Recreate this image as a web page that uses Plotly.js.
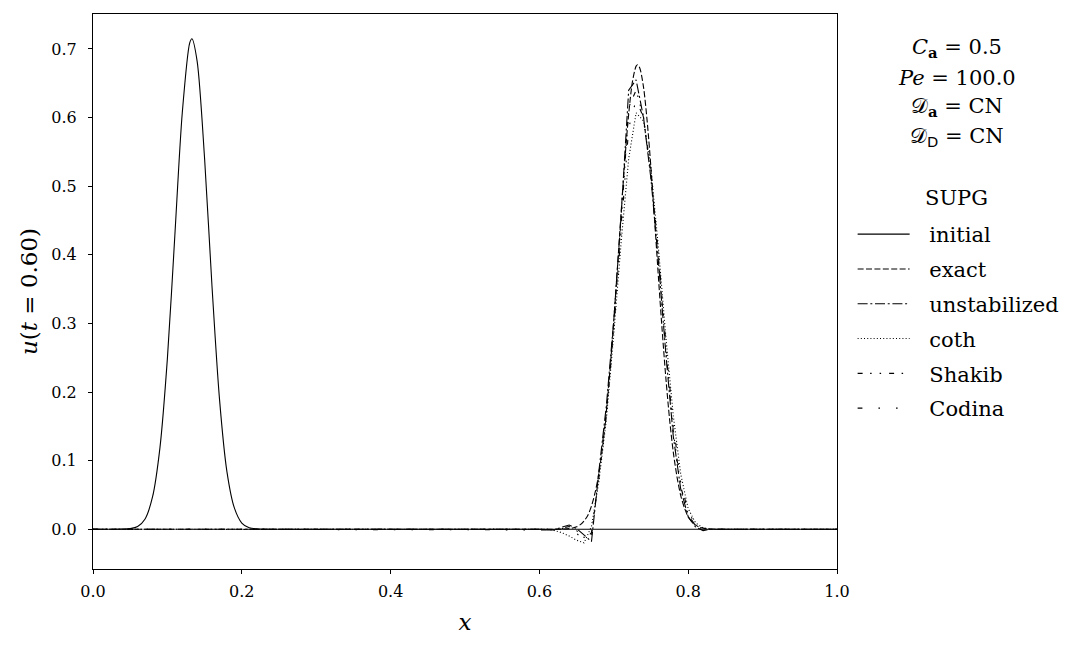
<!DOCTYPE html>
<html>
<head>
<meta charset="utf-8">
<script src="https://cdn.plot.ly/plotly-3.0.1.min.js"></script>
<style>html,body{margin:0;padding:0;background:#fff;}#chart{width:1082px;height:651px;}</style>
</head>
<body>
<div id="chart"></div>
<script>
// ---- data ----
const xInitial = [0, 0.03, 0.04, 0.05, 0.06, 0.07, 0.08, 0.09, 0.10, 0.11, 0.12, 0.13, 0.133, 0.14, 0.15, 0.16, 0.17, 0.18, 0.19, 0.20, 0.21, 0.22, 0.23, 0.24, 0.30, 1.0];
const uInitial = [0, 0, 0.0002, 0.0009, 0.004, 0.015, 0.047, 0.119, 0.249, 0.428, 0.607, 0.709, 0.715, 0.682, 0.540, 0.353, 0.190, 0.084, 0.031, 0.009, 0.002, 0.0005, 0.0001, 0, 0, 0];

const xExact = [0, 0.60, 0.63, 0.64, 0.645, 0.65, 0.655, 0.66, 0.665, 0.67, 0.675, 0.68, 0.685, 0.69, 0.695, 0.70, 0.705, 0.71, 0.715, 0.72, 0.725, 0.73, 0.732, 0.735, 0.74, 0.745, 0.75, 0.755, 0.76, 0.765, 0.77, 0.775, 0.78, 0.785, 0.79, 0.795, 0.80, 0.805, 0.81, 0.815, 0.82, 0.825, 0.83, 0.84, 0.87, 1.0];
const uExact = [0, 0, 0.0002, 0.0009, 0.0019, 0.0036, 0.0066, 0.012, 0.020, 0.034, 0.054, 0.082, 0.121, 0.171, 0.233, 0.305, 0.383, 0.464, 0.540, 0.605, 0.652, 0.675, 0.677, 0.672, 0.644, 0.593, 0.526, 0.448, 0.367, 0.290, 0.220, 0.160, 0.112, 0.076, 0.049, 0.031, 0.018, 0.011, 0.006, 0.003, 0.0016, 0.0008, 0.0003, 0, 0, 0];

const xMesh = [0, 0.50, 0.58, 0.59, 0.60, 0.61, 0.62, 0.63, 0.64, 0.65, 0.66, 0.67, 0.68, 0.69, 0.70, 0.71, 0.72, 0.73, 0.74, 0.75, 0.76, 0.77, 0.78, 0.79, 0.80, 0.81, 0.82, 0.83, 0.84, 0.90, 1.0];
const uUnstabilized = [0, 0, 0, 0.001, 0.000, -0.001, -0.001, 0.003, 0.006, 0.001, -0.009, -0.018, 0.085, 0.180, 0.305, 0.460, 0.640, 0.655, 0.600, 0.510, 0.390, 0.255, 0.135, 0.058, 0.018, 0.003, -0.002, 0, 0, 0, 0];
const uCoth = [0, 0, 0, 0, 0.001, 0, -0.002, -0.005, -0.010, -0.016, -0.020, 0.004, 0.070, 0.160, 0.285, 0.420, 0.540, 0.607, 0.595, 0.525, 0.410, 0.280, 0.165, 0.080, 0.030, 0.009, 0.002, 0, 0, 0, 0];
const uShakib = [0, 0, 0, 0.001, 0.001, 0, -0.001, 0.002, 0.004, -0.002, -0.012, -0.010, 0.078, 0.172, 0.297, 0.448, 0.615, 0.640, 0.600, 0.515, 0.397, 0.262, 0.142, 0.062, 0.021, 0.005, 0, 0, 0, 0, 0];
const uCodina = [0, 0, 0, 0, 0, 0, -0.001, 0.001, 0.002, -0.006, -0.016, -0.005, 0.075, 0.166, 0.291, 0.437, 0.585, 0.626, 0.600, 0.519, 0.402, 0.270, 0.152, 0.068, 0.025, 0.007, 0.001, 0, 0, 0, 0];

const seriesNames = ['initial', 'exact', 'unstabilized', 'coth', 'Shakib', 'Codina'];
const legendTitle = 'SUPG';
const yTickVals = [0, 0.1, 0.2, 0.3, 0.4, 0.5, 0.6, 0.7];
const xTickVals = [0, 0.2, 0.4, 0.6, 0.8, 1.0];
const paramLines = [
  '<i>C</i><sub><b>a</b></sub> = 0.5',
  '<i>Pe</i> = 100.0',
  '\u{1D49F}<sub><b>a</b></sub> = CN',
  '\u{1D49F}<sub><span style="font-family:DejaVu Sans">D</span></sub> = CN'
];

// ---- styling ----
const FONT = 'DejaVu Serif, Liberation Serif, serif';
const dashes = [
  'solid',
  '6px,2.4px',
  '10px,2.7px,2px,2.7px',
  '1px,2.2px',
  '5px,7.5px,1.5px,8px,1.5px,8px',
  '4.8px,16px,1.6px,16px,1.6px,16px'
];
const xs = [xInitial, xExact, xMesh, xMesh, xMesh, xMesh];
const ys = [uInitial, uExact, uUnstabilized, uCoth, uShakib, uCodina];
const LEGEND_PAD = '\u2002\u2009';

const traces = seriesNames.map((name, i) => ({
  type: 'scatter',
  mode: 'lines',
  x: xs[i],
  y: ys[i],
  name: LEGEND_PAD + name,
  legendgroup: name,
  line: {
    color: '#000',
    width: 1.1,
    dash: dashes[i],
    shape: i < 2 ? 'spline' : 'linear',
    smoothing: 0.8
  }
}));

const annotations = paramLines.map((t, i) => ({
  xref: 'paper', yref: 'paper',
  x: 1.161, y: [0.9387, 0.885, 0.8324, 0.778][i],
  xanchor: 'center', yanchor: 'middle',
  text: t, showarrow: false,
  font: {family: FONT, size: 21, color: '#000'}
}));
annotations.push({
  xref: 'paper', yref: 'paper',
  x: 1.161, y: 0.6685,
  xanchor: 'center', yanchor: 'middle',
  text: legendTitle, showarrow: false,
  font: {family: FONT, size: 21, color: '#000'}
});

const layout = {
  width: 1082, height: 651,
  margin: {l: 93, r: 245, t: 14, b: 82},
  paper_bgcolor: '#fff', plot_bgcolor: '#fff',
  font: {family: FONT, color: '#000'},
  showlegend: true,
  legend: {
    x: 1.021, y: 0.6396, xanchor: 'left', yanchor: 'top',
    bgcolor: 'rgba(0,0,0,0)',
    font: {family: FONT, size: 21, color: '#000'},
    tracegroupgap: 4.5,
    itemwidth: 52,
    traceorder: 'grouped'
  },
  xaxis: {
    range: [0, 1],
    tickvals: xTickVals,
    tickformat: '.1f',
    ticks: 'outside', ticklen: 4, tickwidth: 1, tickcolor: '#000',
    ticklabelstandoff: 4,
    showline: true, linecolor: '#000', linewidth: 1, mirror: true,
    showgrid: false, zeroline: false,
    tickfont: {family: FONT, size: 16, color: '#000'},
    title: {text: '<i>x</i>', font: {family: FONT, size: 23, color: '#000'}, standoff: 13}
  },
  yaxis: {
    range: [-0.058, 0.751],
    tickvals: yTickVals,
    tickformat: '.1f',
    ticks: 'outside', ticklen: 4, tickwidth: 1, tickcolor: '#000',
    ticklabelstandoff: 8,
    showline: true, linecolor: '#000', linewidth: 1, mirror: true,
    showgrid: false, zeroline: false,
    tickfont: {family: FONT, size: 16, color: '#000'},
    title: {text: '<i>u</i>(<i>t</i> = 0.60)', font: {family: FONT, size: 23, color: '#000'}, standoff: 7}
  },
  annotations: annotations
};

Plotly.newPlot('chart', traces, layout, {staticPlot: true, displayModeBar: false});
</script>
</body>
</html>
